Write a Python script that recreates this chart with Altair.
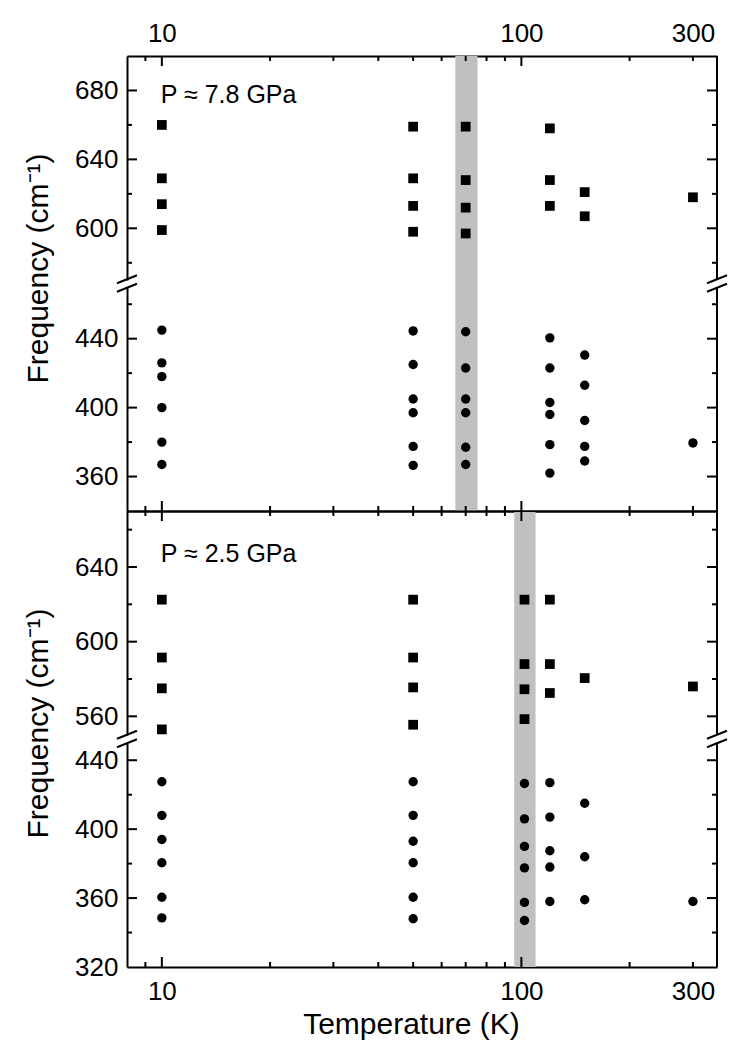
import altair as alt
import pandas as pd

# ---------------- data ----------------
# P ~ 7.8 GPa, high-frequency modes (squares)
hp_sq_T = [10, 10, 10, 10, 50, 50, 50, 50, 70, 70, 70, 70, 120, 120, 120, 150, 150, 300]
hp_sq_f = [660, 629, 614, 599, 659, 629, 613, 598, 659, 628, 612, 597, 658, 628, 613, 621, 607, 618]
# P ~ 7.8 GPa, low-frequency modes (circles)
hp_ci_T = [10, 10, 10, 10, 10, 10, 50, 50, 50, 50, 50, 50, 70, 70, 70, 70, 70, 70,
           120, 120, 120, 120, 120, 120, 150, 150, 150, 150, 150, 300]
hp_ci_f = [445, 426, 418, 400, 380, 367, 444.5, 425, 405, 397, 377.5, 366.5,
           444, 423, 405, 397, 377, 367, 440.5, 423, 403, 396, 378.5, 362,
           430.5, 413, 392.5, 377.5, 369, 379.5]
# P ~ 2.5 GPa, squares
lp_sq_T = [10, 10, 10, 10, 50, 50, 50, 50, 102, 102, 102, 102, 120, 120, 120, 150, 300]
lp_sq_f = [622.5, 591.5, 575, 553, 622.5, 591.5, 575.5, 555.5, 622.5, 588, 574.5, 558.5,
           622.5, 588, 572.5, 580.5, 576]
# P ~ 2.5 GPa, circles
lp_ci_T = [10, 10, 10, 10, 10, 10, 50, 50, 50, 50, 50, 50, 102, 102, 102, 102, 102, 102,
           120, 120, 120, 120, 120, 150, 150, 150, 300]
lp_ci_f = [427.5, 408, 394, 380.5, 360.5, 348.5, 427.5, 408, 393, 380.5, 360.5, 348,
           426.5, 406, 390, 377.5, 357.5, 347, 427, 407, 387.5, 378, 358,
           415, 384, 359, 358]

# transition bands (K)
hp_band = [65.5, 75.5]
lp_band = [95.5, 109.5]

# axis segments
hp_upper_dom = [570, 700]
hp_lower_dom = [340, 470]
lp_upper_dom = [550, 670]
lp_lower_dom = [320, 450]

hp_upper_labels = [600, 640, 680]
hp_lower_labels = [360, 400, 440]
lp_upper_labels = [560, 600, 640]
lp_lower_labels = [320, 360, 400, 440]

hp_upper_minor = [580, 620, 660]
hp_lower_minor = [380, 420, 460]
lp_upper_minor = [580, 620, 660]
lp_lower_minor = [340, 380, 420]

x_labels = [10, 100, 300]
x_major = [10, 100]
x_minor = [9, 20, 30, 40, 50, 60, 70, 80, 90, 200, 300]

# ---------------- styling ----------------
FONT = "Liberation Sans"
W = 590
H = 224
LBL = 26
TTL = 30
xscale = alt.Scale(type="log", domain=[8, 350], nice=False)
one = pd.DataFrame({"a": [0]})


def x_axis(kind):
    common = dict(grid=False, ticks=False, domain=True, domainColor="black",
                  domainWidth=2, labelFont=FONT, labelFontSize=LBL, labelColor="black",
                  labelFlush=False, labelOverlap=False, values=x_labels, format="d")
    if kind == "top_labels":
        return alt.Axis(orient="top", labelPadding=15, labelBaseline="alphabetic",
                        title=None, **common)
    if kind == "top_plain":
        return alt.Axis(orient="top", labels=False, title=None, **common)
    if kind == "bottom_plain":
        return alt.Axis(orient="bottom", labels=False, title=None, **common)
    return alt.Axis(orient="bottom", labelPadding=32, labelBaseline="alphabetic",
                    title="Temperature (K)", titleFont=FONT, titleFontSize=TTL,
                    titleFontWeight="normal", titleColor="black", titleX=284, titleY=66,
                    titleBaseline="alphabetic", **common)


def y_axis(ylabels, with_title):
    common = dict(orient="left", values=ylabels, grid=False, ticks=False,
                  domain=True, domainColor="black", domainWidth=2, labelFont=FONT,
                  labelFontSize=LBL, labelColor="black", labelPadding=9,
                  labelFlush=False, labelOverlap=False)
    if with_title:
        return alt.Axis(title="Frequency (cm\u207b\u00b9)", titleFont=FONT,
                        titleFontSize=TTL, titleFontWeight="normal", titleColor="black",
                        titleX=-80, titleY=212, titleBaseline="alphabetic", **common)
    return alt.Axis(title=None, **common)


def subplot(T, f, shape, ydom, h, gap, ylabels, ymajor, yminor, band, band_y0,
            xkind, with_title=False, annot=None):
    yscale = alt.Scale(domain=ydom, range=[h, gap], nice=False, zero=False)
    xax = x_axis(xkind)
    yax = y_axis(ylabels, with_title)

    layers = []
    band_df = pd.DataFrame({"lo": [band[0]], "hi": [band[1]]})
    layers.append(
        alt.Chart(band_df).mark_rect(color="#c0c0c0").encode(
            x=alt.X("lo:Q", scale=xscale, axis=xax), x2="hi:Q",
            y=alt.value(band_y0), y2=alt.value(h))
    )
    df = pd.DataFrame({"T": T, "f": f})
    if shape == "square":
        pm = alt.Chart(df).mark_square(size=95, color="black", opacity=1)
    else:
        pm = alt.Chart(df).mark_circle(size=88, color="black", opacity=1)
    layers.append(pm.encode(x=alt.X("T:Q", scale=xscale, axis=xax),
                            y=alt.Y("f:Q", scale=yscale, axis=yax)))

    # x ticks (inward)
    if xkind.startswith("top"):
        y0, s = 0, 1
    else:
        y0, s = h, -1
    for vals, ln in ((x_major, 10), (x_minor, 5)):
        layers.append(
            alt.Chart(pd.DataFrame({"v": vals})).mark_rule(color="black", strokeWidth=2).encode(
                x=alt.X("v:Q", scale=xscale, axis=xax),
                y=alt.value(y0), y2=alt.value(y0 + s * ln))
        )
    # y ticks (inward, both sides)
    for vals, ln in ((ymajor, 10), (yminor, 5)):
        tdf = pd.DataFrame({"v": vals})
        layers.append(
            alt.Chart(tdf).mark_rule(color="black", strokeWidth=2).encode(
                y=alt.Y("v:Q", scale=yscale, axis=yax),
                x=alt.value(0), x2=alt.value(ln))
        )
        layers.append(
            alt.Chart(tdf).mark_rule(color="black", strokeWidth=2).encode(
                y=alt.Y("v:Q", scale=yscale, axis=yax),
                x=alt.value(W), x2=alt.value(W - ln))
        )
    # right frame line
    layers.append(
        alt.Chart(one).mark_rule(color="black", strokeWidth=2).encode(
            x=alt.value(W), y=alt.value(gap), y2=alt.value(h))
    )
    # axis-break marks
    if gap > 0:
        c = gap / 2.0
        for xc in (0, W):
            for cc in (c - 4.2, c + 4.2):
                layers.append(
                    alt.Chart(one).mark_rule(color="black", strokeWidth=2).encode(
                        x=alt.value(xc - 10), x2=alt.value(xc + 10),
                        y=alt.value(cc + 4), y2=alt.value(cc - 4))
                )
    # annotation
    if annot is not None:
        adf = pd.DataFrame({"T": [10], "label": [annot[0]]})
        layers.append(
            alt.Chart(adf).mark_text(align="left", baseline="alphabetic", font=FONT,
                                     fontSize=25, color="black", dx=-1).encode(
                x=alt.X("T:Q", scale=xscale, axis=xax),
                y=alt.value(annot[1]), text="label:N")
        )
    return alt.layer(*layers).properties(width=W, height=h)


a = subplot(hp_sq_T, hp_sq_f, "square", hp_upper_dom, H, 0, hp_upper_labels,
            hp_upper_labels, hp_upper_minor, hp_band, 0, "top_labels",
            with_title=True, annot=("P \u2248 7.8 GPa", 47))
b = subplot(hp_ci_T, hp_ci_f, "circle", hp_lower_dom, H + 7, 7, hp_lower_labels,
            hp_lower_labels, hp_lower_minor, hp_band, 0, "bottom_plain")
c = subplot(lp_sq_T, lp_sq_f, "square", lp_upper_dom, H, 0, lp_upper_labels,
            lp_upper_labels, lp_upper_minor, lp_band, 1, "top_plain",
            with_title=True, annot=("P \u2248 2.5 GPa", 51))
d = subplot(lp_ci_T, lp_ci_f, "circle", lp_lower_dom, H + 8, 8, lp_lower_labels,
            [360, 400, 440], lp_lower_minor, lp_band, 0, "bottom_labels")

chart = alt.VConcatChart(vconcat=[a, b, c, d], spacing=0, bounds="flush").configure_view(
    stroke=None
).properties(padding={"left": 15, "top": 12, "right": 5, "bottom": 5}, background="white")

chart.save("out.html", embed_options={"renderer": "svg", "actions": False})
